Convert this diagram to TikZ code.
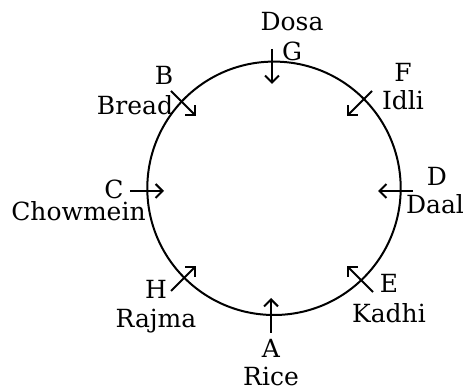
\documentclass[tikz,border=0pt]{standalone}
\usepackage{fontspec}
\setmainfont{DejaVu Serif}
\usetikzlibrary{arrows.meta}
\begin{document}
\begin{tikzpicture}[x=1pt,y=-1pt,
  lbl/.style={anchor=base,inner sep=0pt,font=\fontsize{25}{29}\selectfont},
  ptr/.style={line width=2pt,-{Straight Barb[length=7pt,width=14pt,line width=2pt]}},
  ring/.style={circle,draw,line width=2pt,inner sep=0pt,minimum size=253.4pt}]
\useasboundingbox (0,0) rectangle (464,390);
\node[ring] (rg) at (274,188.3) {};
% labels
\node[lbl] (dosa) at (292,31) {Dosa};
\node[lbl] (g) at (292,61) {G};
\node[lbl] (b) at (164,85) {B};
\node[lbl] (bread) at (135,115) {Bread};
\node[lbl] (f) at (403,82) {F};
\node[lbl] (idli) at (403,110) {Idli};
\node[lbl] (c) at (114,199) {C};
\node[lbl] (chow) at (78.5,221) {Chowmein};
\node[lbl] (d) at (437,186) {D};
\node[lbl] (daal) at (435,214) {Daal};
\node[lbl] (h) at (156,299) {H};
\node[lbl] (rajma) at (156,328) {Rajma};
\node[lbl] (e) at (389,293) {E};
\node[lbl] (kadhi) at (389,323) {Kadhi};
\node[lbl] (a) at (271,358) {A};
\node[lbl] (rice) at (271,386) {Rice};
% arrow ends
\coordinate (g0) at (272,49);  \coordinate (g1) at (272,84);
\coordinate (b0) at (171,91);  \coordinate (b1) at (196,116);
\coordinate (f0) at (372,91);  \coordinate (f1) at (347,116);
\coordinate (c0) at (130,191); \coordinate (c1) at (164,191);
\coordinate (d0) at (413,191); \coordinate (d1) at (378,191);
\coordinate (h0) at (171,291); \coordinate (h1) at (196,266);
\coordinate (a0) at (271,333); \coordinate (a1) at (271,298);
\coordinate (e0) at (373,292); \coordinate (e1) at (347,266);
\foreach \p in {g,b,f,c,d,h,a,e}{\draw[ptr] (\p0) -- (\p1);}
\end{tikzpicture}
\end{document}
